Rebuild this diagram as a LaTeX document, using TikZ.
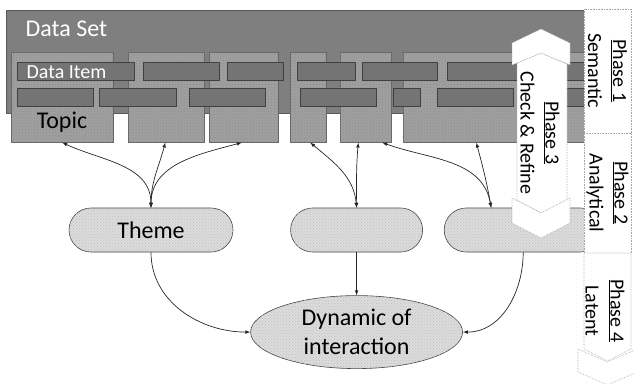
\documentclass[tikz,border=0pt]{standalone}
\usepackage{fontspec}
\setmainfont{Carlito}
\usetikzlibrary{positioning,shapes.geometric,patterns}
\definecolor{setgray}{HTML}{7F7F7F}
\definecolor{itemgray}{HTML}{747474}
\definecolor{topicgray}{HTML}{A0A0A0}
\definecolor{themegray}{HTML}{DCDCDC}
\definecolor{rimgray}{HTML}{A6A6A6}

\begin{document}
\begin{tikzpicture}[x=1pt, y=1pt, semithick,
    box/.style={rectangle, anchor=north west, inner sep=0, minimum height=18},
    topic/.style={box, draw=black!60, fill=topicgray, postaction={pattern=crosshatch dots, pattern color=black!45}, minimum height=90},
    item/.style={box, draw=black!75, fill=itemgray},
    theme/.style={rectangle, rounded corners=22, draw=black!75, fill=themegray, postaction={pattern=crosshatch dots, pattern color=black!25}, minimum height=44, inner sep=0},
    big/.style={font=\fontsize{24}{29}\selectfont},
    small/.style={font=\fontsize{20}{25}\selectfont},
    phase/.style={draw=rimgray, densely dotted, fill=white},
    phasetext/.style={small, rotate=-90, align=center},
    link/.style={latex-latex, black!85, line width=0.7pt},
    line/.style={-latex, black!85, line width=0.7pt}]
\useasboundingbox (0,0) rectangle (634,-383);

% data set and topics
\node[box, draw=black!65, fill=setgray, minimum width=584, minimum height=103] (D) at (6,-10) {};
\node[big, text=white, anchor=base west] (Dt) at (22,-36) {Data Set};
\node[topic, minimum width=102] (T1) at (11,-52) {};
\node[topic, minimum width=76] (T2) at (128,-52) {};
\node[topic, minimum width=69] (T3) at (209,-52) {};
\node[topic, minimum width=36] (T4) at (290,-52) {};
\node[topic, minimum width=51] (T5) at (340,-52) {};
\node[topic, minimum width=187] (T6) at (403,-52) {};
\node[big] (T1t) at (62,-122) {Topic};

% data items
\node[item, minimum width=117] (I1) at (17,-62) {};
\node[item, minimum width=76] (I2) at (143,-62) {};
\node[item, minimum width=56] (I3) at (227,-62) {};
\node[item, minimum width=58] (I4) at (297,-62) {};
\node[item, minimum width=75] (I5) at (362,-62) {};
\node[item, minimum width=143] (I6) at (447,-62) {};
\node[item, minimum width=76] (I7) at (17,-88) {};
\node[item, minimum width=77] (I8) at (99,-88) {};
\node[item, minimum width=76] (I9) at (189,-88) {};
\node[item, minimum width=76] (I10) at (300,-88) {};
\node[item, minimum width=27] (I11) at (393,-88) {};
\node[item, minimum width=76] (I12) at (437,-88) {};
\node[item, minimum width=65] (I13) at (525,-88) {};
\node[small, text=white, anchor=base west] (I1t) at (23,-78) {Data Item};

% themes
\node[theme, big, minimum width=164] (H1) at (151,-230) {Theme};
\node[theme, minimum width=132, right=57pt of H1] (H2) {};
\node[theme, minimum width=158, right=21pt of H2] (H3) {};
\node[ellipse, draw=black!75, fill=themegray, postaction={pattern=crosshatch dots, pattern color=black!25}, minimum width=212, minimum height=73, inner sep=0, big, align=center, below=43pt of H2] (Y) {Dynamic of\\interaction};

\path[link] (H1.north) edge[out=90, in=-25] (T1.south);
\path[link] (H1.north) edge[out=90, in=-105] ([xshift=-1pt]T2.south);
\path[link] (H1.north) edge[out=90, in=-165] ([xshift=-2pt]T3.south);
\path[link] (H2.north) edge[out=95, in=-40] ([xshift=2pt]T4.south);
\path[link] (H2.north) edge[out=90, in=-95] ([xshift=-7.5pt]T5.south);
\path[link] ([xshift=-32pt]H3.north) edge[out=100, in=-20] ([xshift=16.5pt]T5.south);
\path[link] ([xshift=-32pt]H3.north) edge[out=100, in=-75] ([xshift=-20.5pt]T6.south);
\path[line] (H1.south) edge[out=-90, in=180] (Y.west);
\path[line] (H2.south) edge (Y.north);
\path[line] (H3.south) edge[out=-90, in=0] (Y.east);

% phase 3 arrow
\draw[phase] (517,-63) -- (541,-53) -- (567,-64) -- (567,-200) -- (541,-213) -- (517,-200) -- cycle;
\draw[phase] (512,-65) -- (512,-43) -- (541,-29) -- (570,-43) -- (570,-65) -- (541,-53) -- cycle;
\draw[phase] (512,-198) -- (541,-213) -- (570,-198) -- (570,-223) -- (541,-238) -- (512,-223) -- cycle;
\node[phasetext] (R) at (540,-133) {\underline{Phase 3}\\Check \& Refine};

% phase column
\node[phase, phasetext, minimum width=124, minimum height=47, inner sep=0] (P1) at (607.5,-71) {\underline{Phase 1}\\Semantic};
\node[phase, phasetext, minimum width=120, minimum height=47, inner sep=0] (P2) at (607.5,-193) {\underline{Phase 2}\\Analytical};
\draw[phase] (578,-349) -- (607.5,-362) -- (637,-349) -- (637,-372) -- (607.5,-385) -- (578,-372) -- cycle;
\draw[phase] (584,-253) -- (631,-253) -- (631,-349) -- (607.5,-361) -- (584,-349) -- cycle;
\node[phasetext] (P4) at (605,-311) {\underline{Phase 4}\\Latent};
\end{tikzpicture}
\end{document}
